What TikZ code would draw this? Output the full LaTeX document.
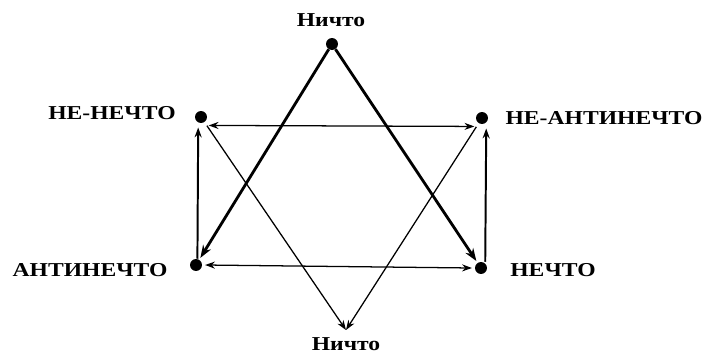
\documentclass[tikz,border=0pt]{standalone}
\usepackage{fontspec}
\newfontfamily\lblfont{Liberation Serif}[FakeStretch=1.2]
\usetikzlibrary{arrows.meta,calc}

\begin{document}
\begin{tikzpicture}[x=0.025cm,y=-0.025cm,
  dot/.style={circle,fill,inner sep=0pt,minimum size=8.5pt},
  lbltext/.style={font=\lblfont\bfseries\fontsize{14}{16}\selectfont,inner sep=0pt},
  heavyarr/.style={line width=2pt,-{Stealth[length=9pt,width=6.5pt]},shorten >=1.5pt},
  midarr/.style={line width=1.4pt,-{Stealth[length=7pt,width=5pt]}},
  lightarr/.style={line width=0.9pt,-{Stealth[length=7pt,width=5pt]}}]
\useasboundingbox (0,0) rectangle (708,356);
% points of the star
\node[dot] (top) at (332,44) {};
\node[dot] (nn) at (201,117) {};
\node[dot] (nan) at (482,118) {};
\node[dot] (an) at (196,265) {};
\node[dot] (n) at (481,268) {};
\coordinate (bot) at (346,330);
% names
\node[lbltext] (ttop) at (331,20) {Ничто};
\node[lbltext] (tnn) at (112,113) {НЕ-НЕЧТО};
\node[lbltext] (tnan) at (604,118) {НЕ-АНТИНЕЧТО};
\node[lbltext] (tan) at (90,270) {АНТИНЕЧТО};
\node[lbltext] (tn) at (553,270) {НЕЧТО};
\node[lbltext] (tbot) at (346,344) {Ничто};
% arrows
\draw[heavyarr] (top) -- (an);
\draw[heavyarr] (top) -- (n);
\draw[lightarr,shorten <=3pt] (nn) -- (bot);
\draw[lightarr,shorten <=3pt] (nan) -- (bot);
\draw[lightarr,{Stealth[length=7pt,width=5pt]}-{Stealth[length=7pt,width=5pt]}] ([yshift=-6pt,xshift=1pt]nn.east) -- ([yshift=-6pt,xshift=-1pt]nan.west);
\draw[lightarr,{Stealth[length=7pt,width=5pt]}-{Stealth[length=7pt,width=5pt]}] ([xshift=2pt]an.east) -- ([xshift=-2pt]n.west);
\draw[midarr] ([xshift=1pt]an.north) -- ([xshift=-2pt,yshift=-3pt]nn.south);
\draw[midarr] ([xshift=3pt]n.north) -- ([xshift=3pt,yshift=-3pt]nan.south);
\end{tikzpicture}
\end{document}
